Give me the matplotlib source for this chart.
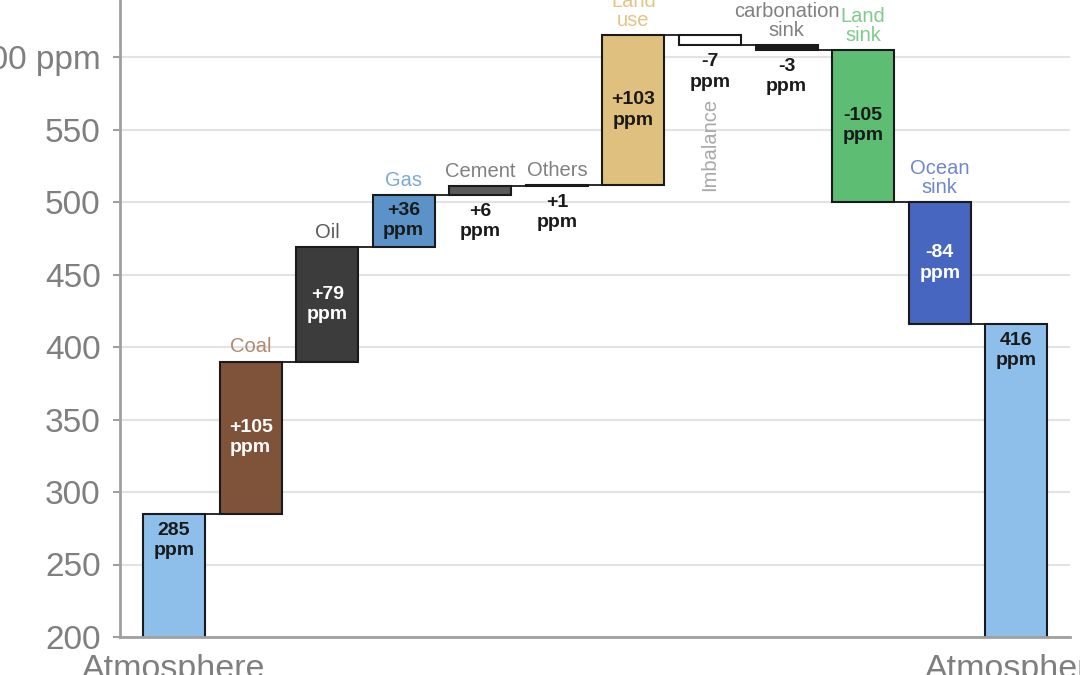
import matplotlib
matplotlib.use("Agg")
import matplotlib.pyplot as plt

# ---- data ----
categories = ["Atmosphere", "Coal", "Oil", "Gas", "Cement", "Others", "Land\nuse",
              "Imbalance", "Cement\ncarbonation\nsink", "Land\nsink", "Ocean\nsink", "Atmosphere"]
deltas = [285, 105, 79, 36, 6, 1, 103, -7, -3, -105, -84]
final_value = 416
value_labels = ["285\nppm", "+105\nppm", "+79\nppm", "+36\nppm", "+6\nppm", "+1\nppm",
                "+103\nppm", "-7\nppm", "-3\nppm", "-105\nppm", "-84\nppm", "416\nppm"]
y_ticks = [200, 250, 300, 350, 400, 450, 500, 550, 600]
y_tick_labels = ["200", "250", "300", "350", "400", "450", "500", "550", "600 ppm"]

bar_colors = ["#8dbfea", "#7e5339", "#3c3c3c", "#5b93c8", "#5a5a5a", "#111111", "#dfc07f",
              "#ffffff", "#1a1a1a", "#5cbd73", "#4666bf", "#8dbfea"]
cat_colors = ["#888888", "#b08a6e", "#5a5a5a", "#7aaad8", "#808080", "#808080", "#e2c586",
              "#a8a8a8", "#808080", "#7fcb8d", "#6f87cf", "#888888"]
val_colors = ["#1a1a1a", "white", "white", "#1a1a1a", "#1a1a1a", "#1a1a1a", "#1a1a1a",
              "#1a1a1a", "#1a1a1a", "#1a1a1a", "white", "#1a1a1a"]

plt.rcParams['font.family'] = ['Liberation Sans', 'DejaVu Sans']

fig = plt.figure(figsize=(10.8, 6.75), dpi=100)
ax = fig.add_axes([120/1080, 1 - 637/675, 950/1080, (637 + 15.5)/675])
ylo, yhi = 200, 650
ax.set_ylim(ylo, yhi)
ax.set_xlim(-0.705, 11.70)

width = 0.81
n = len(categories)
bottoms, tops = [], []
running = 0
for i, d in enumerate(deltas):
    if i == 0:
        b, t = 0, d
    else:
        b, t = running, running + d
    running += d
    bottoms.append(min(b, t))
    tops.append(max(b, t))
bottoms.append(0)
tops.append(final_value)

heights = [t - b for b, t in zip(bottoms, tops)]
ax.bar(range(n), heights, bottom=bottoms, width=width, color=bar_colors,
       edgecolor="#1a1a1a", linewidth=1.5, zorder=3)

# connectors
levels = []
running = 0
for d in deltas:
    running += d
    levels.append(running)
for i in range(n - 1):
    ax.plot([i + width / 2, i + 1 - width / 2], [levels[i], levels[i]],
            color="#1a1a1a", lw=1.3, zorder=2)

fs_cat = 14.5
fs_val = 14
off = 3.5
for i in range(n):
    top, bot = tops[i], bottoms[i]
    # category label
    if i in (0, n - 1):
        pass
    elif i == 7:
        ax.text(i, 571.5, categories[i], rotation=90, ha='center', va='top',
                fontsize=fs_cat, color=cat_colors[i], zorder=4)
    else:
        ax.text(i, top + off, categories[i], ha='center', va='bottom', fontsize=fs_cat,
                color=cat_colors[i], linespacing=1.0, zorder=4)
    # value label
    h = top - bot
    kw = dict(ha='center', fontsize=fs_val, color=val_colors[i], linespacing=1.25,
              fontweight='bold', zorder=4)
    if i in (0, n - 1):
        ax.text(i, top - 5.5, value_labels[i], va='top', **kw)
    elif h < 20:
        ax.text(i, bot - 5.5, value_labels[i], va='top', **kw)
    else:
        ax.text(i, (top + bot) / 2, value_labels[i], va='center', **kw)

ax.set_yticks(y_ticks)
ax.set_yticklabels(y_tick_labels)
ax.set_xticks([0, n - 1])
ax.set_xticklabels(["Atmosphere", "Atmosphere"])
ax.tick_params(axis='y', length=5, width=1.5, color="#a0a0a0", labelsize=24,
               labelcolor="#7f7f7f", pad=9)
ax.tick_params(axis='x', length=0, labelsize=24.5, labelcolor="#7f7f7f", pad=12)

ax.grid(axis='y', color="#e3e3e3", lw=1.5, zorder=0)
ax.set_axisbelow(True)
for s in ("top", "right"):
    ax.spines[s].set_visible(False)
for s in ("left", "bottom"):
    ax.spines[s].set_color("#a0a0a0")
    ax.spines[s].set_linewidth(2)
ax.spines['bottom'].set_zorder(5)

fig.savefig("out.png", dpi=100)
